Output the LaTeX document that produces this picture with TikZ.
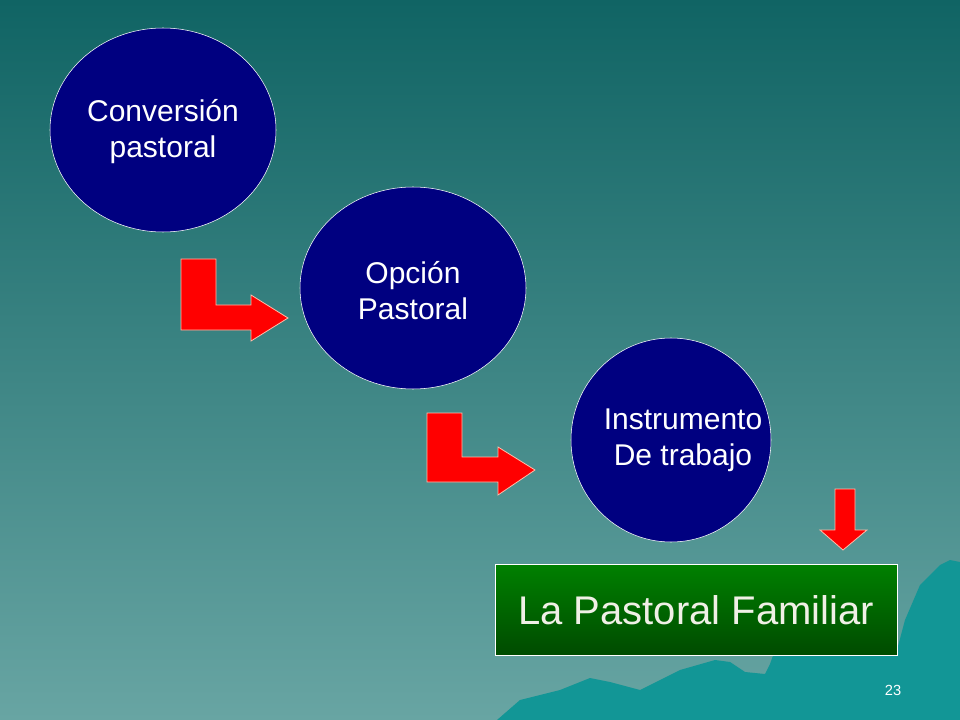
\documentclass[tikz,border=0pt]{standalone}
\usepackage{fontspec}
\setmainfont{Liberation Sans}
\begin{document}
\begin{tikzpicture}[x=0.75pt,y=-0.75pt,
  circ/.style={draw=white,fill={rgb,255:red,0;green,0;blue,128},ellipse,text=white,font=\fontsize{22.5}{27}\selectfont,align=center},
  redarrow/.style={fill=red,draw={rgb,255:red,255;green,190;blue,170},line width=0.6pt}]
\definecolor{bgtop}{RGB}{16,100,100}
\definecolor{bgbot}{RGB}{104,165,163}
\definecolor{mount}{RGB}{18,150,150}
\fill[top color=bgtop,bottom color=bgbot] (0,0) rectangle (960,720);
\useasboundingbox (0,0) rectangle (960,720);
% mountains
\fill[mount] (497,720) -- (520,700) -- (560,690) -- (590,678) -- (610,682) -- (640,690) -- (680,670) -- (715,660) -- (730,662) -- (745,672) -- (765,674) -- (770,664) -- (775,650) -- (897,650) -- (905,620) -- (920,585) -- (940,565) -- (950,560) -- (960,562) -- (960,720) -- cycle;
\path[draw=white,fill={rgb,255:red,0;green,0;blue,128}] (163,130) ellipse [x radius=113, y radius=102];
\node[text=white,font=\fontsize{22.5}{27}\selectfont,align=center] (c1) at (163,132) {Conversión\\pastoral};
\path[draw=white,fill={rgb,255:red,0;green,0;blue,128}] (413,288) ellipse [x radius=113, y radius=101];
\node[text=white,font=\fontsize{22.5}{27}\selectfont,align=center] (c2) at (413,291) {Opción\\ Pastoral};
\path[draw=white,fill={rgb,255:red,0;green,0;blue,128}] (671,440) ellipse [x radius=100, y radius=102];
\node[text=white,font=\fontsize{22.5}{27}\selectfont,align=center] (c3) at (683,440) {Instrumento\\De trabajo};
% bent arrows
\draw[redarrow] (181,259) -- (216,259) -- (216,305) -- (251,305) -- (251,295) -- (288,318) -- (251,341) -- (251,330) -- (181,330) -- cycle;
\draw[redarrow] (427,413) -- (462,413) -- (462,457) -- (498,457) -- (498,447) -- (535,470) -- (498,495) -- (498,482) -- (427,482) -- cycle;
\draw[redarrow] (835,489) -- (855,489) -- (855,530) -- (867,530) -- (843,550) -- (820,530) -- (835,530) -- cycle;
% box
\path[draw=white,top color={rgb,255:red,0;green,128;blue,0},bottom color={rgb,255:red,0;green,75;blue,0}] (495,564) rectangle (897,655);
\node[text={rgb,255:red,240;green,240;blue,230},font=\fontsize{30}{36}\selectfont] (box) at (696,610) {La Pastoral Familiar};
\node[text=white,font=\fontsize{11}{13}\selectfont] (pg) at (893,690) {23};
\end{tikzpicture}
\end{document}
